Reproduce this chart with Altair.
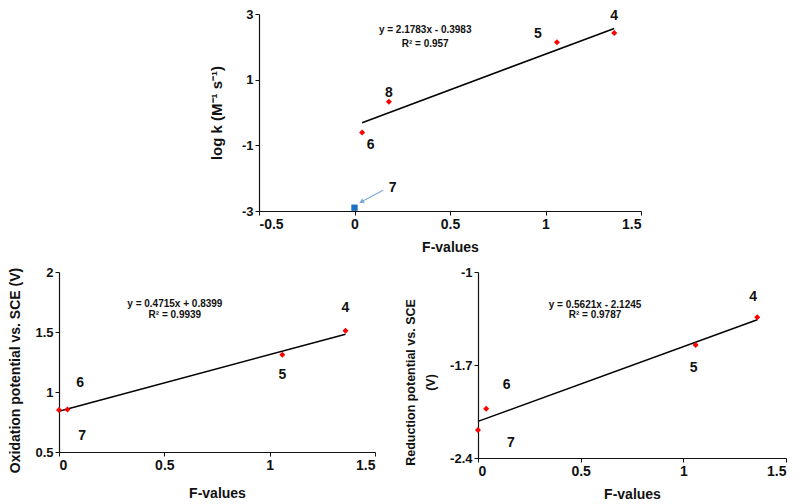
import altair as alt
import pandas as pd

FONT = "Liberation Sans, Arial, sans-serif"
LABEL_EXPR = "datum.value < 0 ? '-' + format(-datum.value, '~g') : format(datum.value, '~g')"

# ---------------- data ----------------
# top panel: log k vs F-values
top_cmpd = ["4", "5", "8", "6"]
top_f = [1.36, 1.06, 0.18, 0.04]
top_logk = [2.42, 2.14, 0.33, -0.61]
top_sq_f = [0.0]          # compound 7 (blue square)
top_sq_logk = [-2.9]
top_trend_x = [0.04, 1.36]
top_trend_y = [-0.31, 2.56]
top_lab_text = ["4", "5", "8", "6", "7"]
top_lab_x = [1.36, 0.96, 0.18, 0.085, 0.20]
top_lab_y = [2.95, 2.4, 0.58, -1.0, -2.31]
top_eq = ["y = 2.1783x - 0.3983", "R² = 0.957"]
top_eq_x = [0.37, 0.37]
top_eq_y = [2.5, 2.1]
arrow_x = [0.15]
arrow_y = [-2.37]
arrow_x2 = [0.036]
arrow_y2 = [-2.72]

# bottom panels
cmpd = ["4", "5", "6", "7"]
f_vals = [1.36, 1.06, 0.04, 0.0]
ox_vals = [1.51, 1.31, 0.855, 0.85]
red_vals = [-1.34, -1.55, -2.03, -2.19]

ox_trend_x = [0.0, 1.36]
ox_trend_y = [0.84, 1.481]
ox_lab_x = [1.36, 1.06, 0.10, 0.11]
ox_lab_y = [1.70, 1.14, 1.075, 0.63]
ox_eq = ["y = 0.4715x + 0.8399", "R² = 0.9939"]
ox_eq_x = [0.55, 0.55]
ox_eq_y = [1.73, 1.64]

red_trend_x = [0.0, 1.36]
red_trend_y = [-2.1245, -1.36]
red_lab_x = [1.34, 1.05, 0.14, 0.16]
red_lab_y = [-1.19, -1.72, -1.85, -2.29]
red_eq = ["y = 0.5621x - 2.1245", "R² = 0.9787"]
red_eq_x = [0.57, 0.57]
red_eq_y = [-1.25, -1.325]


def panel(px, py, trend_x, trend_y, lab_text, lab_x, lab_y, eq, eq_x, eq_y,
          xdom, xticks, ydom, yticks, ytitle, width, height, extra=None,
          ytitle_pad=8, ytitle_dy=0, ytitle_size=14, xtitle_pad=8):
    xs = alt.Scale(domain=xdom, nice=False, zero=False)
    ys = alt.Scale(domain=ydom, nice=False, zero=False)
    xax = alt.Axis(values=xticks, title="F-values", titlePadding=xtitle_pad,
                   labelExpr=LABEL_EXPR)
    yax = alt.Axis(values=yticks, title=ytitle, titlePadding=ytitle_pad,
                   labelExpr=LABEL_EXPR, titleY=height / 2 + ytitle_dy,
                   titleFontSize=ytitle_size, titleLineHeight=20)

    trend = alt.Chart(pd.DataFrame({"x": trend_x, "y": trend_y})).mark_line(
        color="black", strokeWidth=1.5
    ).encode(x=alt.X("x:Q", scale=xs, axis=xax), y=alt.Y("y:Q", scale=ys, axis=yax))

    pts = alt.Chart(pd.DataFrame({"x": px, "y": py})).mark_point(
        shape="diamond", filled=True, color="#FF0000", size=36, opacity=1
    ).encode(x="x:Q", y="y:Q")

    labs = alt.Chart(pd.DataFrame({"x": lab_x, "y": lab_y, "t": lab_text})).mark_text(
        font=FONT, fontSize=14, fontWeight="bold", color="#111"
    ).encode(x="x:Q", y="y:Q", text="t:N")

    eqs = alt.Chart(pd.DataFrame({"x": eq_x, "y": eq_y, "t": eq})).mark_text(
        font=FONT, fontSize=10, fontWeight="bold", color="#111"
    ).encode(x="x:Q", y="y:Q", text="t:N")

    layers = [trend, pts, labs, eqs]
    if extra:
        layers += extra
    return alt.layer(*layers).properties(width=width, height=height)


# extra marks for top panel: blue square (compound 7) and arrow
sq = alt.Chart(pd.DataFrame({"x": top_sq_f, "y": top_sq_logk})).mark_point(
    shape="square", filled=True, color="#1F6FC0", size=40, opacity=1
).encode(x="x:Q", y="y:Q")
arr_df = pd.DataFrame({"x": arrow_x, "y": arrow_y, "x2": arrow_x2, "y2": arrow_y2})
arr_line = alt.Chart(arr_df).mark_rule(color="#7FA8DA", strokeWidth=1.2).encode(
    x="x:Q", y="y:Q", x2="x2:Q", y2="y2:Q"
)
arr_head = alt.Chart(arr_df).mark_point(
    shape="triangle-up", filled=True, color="#7FA8DA", size=30, angle=242, opacity=1
).encode(x="x2:Q", y="y2:Q")

top = panel(top_f, top_logk, top_trend_x, top_trend_y, top_lab_text, top_lab_x, top_lab_y,
            top_eq, top_eq_x, top_eq_y, [-0.5, 1.5], [-0.5, 0, 0.5, 1, 1.5],
            [-3, 3], [-3, -1, 1, 3], "log k  (M⁻¹ s⁻¹)", 382, 197,
            extra=[arr_line, arr_head, sq], ytitle_pad=17, ytitle_size=15, xtitle_pad=9)

left = panel(f_vals, ox_vals, ox_trend_x, ox_trend_y, cmpd, ox_lab_x, ox_lab_y,
             ox_eq, ox_eq_x, ox_eq_y, [0, 1.5], [0, 0.5, 1, 1.5],
             [0.5, 2], [0.5, 1, 1.5, 2], "Oxidation potential vs. SCE (V)", 316, 180,
             ytitle_pad=12, ytitle_dy=8, ytitle_size=14, xtitle_pad=14)

right = panel(f_vals, red_vals, red_trend_x, red_trend_y, cmpd, red_lab_x, red_lab_y,
              red_eq, red_eq_x, red_eq_y, [0, 1.5], [0, 0.5, 1, 1.5],
              [-2.4, -1], [-2.4, -1.7, -1], ["Reduction potential vs. SCE", "(V)"], 308, 186,
              ytitle_pad=12, ytitle_dy=17, ytitle_size=12.5, xtitle_pad=9)

spacer = alt.Chart(pd.DataFrame({"a": [0]})).mark_point(opacity=0).encode(
    x=alt.X("a:Q", axis=None), y=alt.Y("a:Q", axis=None)
).properties(width=150, height=10)

top_row = alt.hconcat(spacer, top, spacing=0)
bottom_row = alt.hconcat(left, right, spacing=28)

chart = alt.vconcat(top_row, bottom_row, spacing=12).configure_view(
    stroke=None
).configure_axis(
    grid=False,
    domainColor="#111",
    tickColor="#111",
    domainWidth=1.2,
    tickSize=4,
    labelFont=FONT,
    labelFontSize=14,
    labelFontWeight="bold",
    labelColor="#111",
    titleFont=FONT,
    titleFontSize=14,
    titleFontWeight="bold",
    titleColor="#111",
).configure_axisY(
    labelFontSize=13
).properties(background="white", padding=0)

chart.save("out.html", embed_options={"renderer": "svg", "actions": False})
